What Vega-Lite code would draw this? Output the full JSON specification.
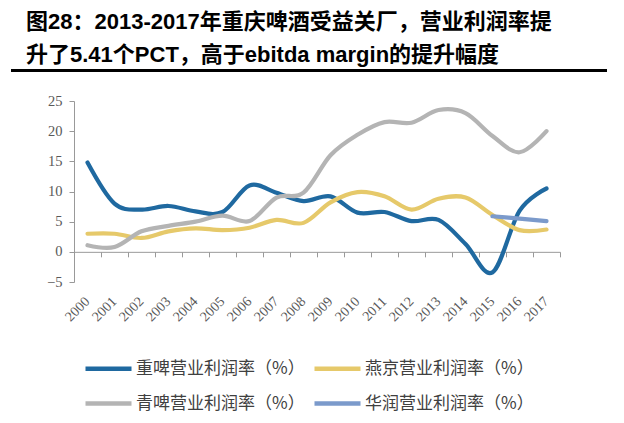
{
  "$schema": "https://vega.github.io/schema/vega-lite/v6.json",
  "width": 596,
  "height": 181,
  "autosize": "none",
  "padding": {"left": 11, "top": 101, "right": 17, "bottom": 141},
  "background": "white",
  "config": {"view": {"stroke": null}},
  "title": {
    "text": ["图28：2013-2017年重庆啤酒受益关厂，营业利润率提", "升了5.41个PCT，高于ebitda margin的提升幅度"],
    "anchor": "start",
    "frame": "group",
    "dx": 15,
    "offset": 3,
    "fontSize": 22,
    "lineHeight": 33,
    "font": "Liberation Sans, Noto Sans CJK SC",
    "fontWeight": "bold",
    "color": "#000000"
  },
  "data": {
    "values": [
      {"year": "2000", "series": "重啤营业利润率（%）", "value": 14.8},
      {"year": "2001", "series": "重啤营业利润率（%）", "value": 8.0},
      {"year": "2002", "series": "重啤营业利润率（%）", "value": 7.0},
      {"year": "2003", "series": "重啤营业利润率（%）", "value": 7.6},
      {"year": "2004", "series": "重啤营业利润率（%）", "value": 6.7},
      {"year": "2005", "series": "重啤营业利润率（%）", "value": 6.6},
      {"year": "2006", "series": "重啤营业利润率（%）", "value": 11.0},
      {"year": "2007", "series": "重啤营业利润率（%）", "value": 9.8},
      {"year": "2008", "series": "重啤营业利润率（%）", "value": 8.4},
      {"year": "2009", "series": "重啤营业利润率（%）", "value": 9.2},
      {"year": "2010", "series": "重啤营业利润率（%）", "value": 6.5},
      {"year": "2011", "series": "重啤营业利润率（%）", "value": 6.6},
      {"year": "2012", "series": "重啤营业利润率（%）", "value": 5.1},
      {"year": "2013", "series": "重啤营业利润率（%）", "value": 5.3},
      {"year": "2014", "series": "重啤营业利润率（%）", "value": 1.3},
      {"year": "2015", "series": "重啤营业利润率（%）", "value": -3.4},
      {"year": "2016", "series": "重啤营业利润率（%）", "value": 6.8},
      {"year": "2017", "series": "重啤营业利润率（%）", "value": 10.5},
      {"year": "2000", "series": "燕京营业利润率（%）", "value": 3.0},
      {"year": "2001", "series": "燕京营业利润率（%）", "value": 3.0},
      {"year": "2002", "series": "燕京营业利润率（%）", "value": 2.3},
      {"year": "2003", "series": "燕京营业利润率（%）", "value": 3.4},
      {"year": "2004", "series": "燕京营业利润率（%）", "value": 3.9},
      {"year": "2005", "series": "燕京营业利润率（%）", "value": 3.6},
      {"year": "2006", "series": "燕京营业利润率（%）", "value": 4.0},
      {"year": "2007", "series": "燕京营业利润率（%）", "value": 5.3},
      {"year": "2008", "series": "燕京营业利润率（%）", "value": 4.8},
      {"year": "2009", "series": "燕京营业利润率（%）", "value": 8.2},
      {"year": "2010", "series": "燕京营业利润率（%）", "value": 9.9},
      {"year": "2011", "series": "燕京营业利润率（%）", "value": 9.2},
      {"year": "2012", "series": "燕京营业利润率（%）", "value": 7.0},
      {"year": "2013", "series": "燕京营业利润率（%）", "value": 8.8},
      {"year": "2014", "series": "燕京营业利润率（%）", "value": 9.0},
      {"year": "2015", "series": "燕京营业利润率（%）", "value": 6.1},
      {"year": "2016", "series": "燕京营业利润率（%）", "value": 3.6},
      {"year": "2017", "series": "燕京营业利润率（%）", "value": 3.7},
      {"year": "2000", "series": "青啤营业利润率（%）", "value": 1.1},
      {"year": "2001", "series": "青啤营业利润率（%）", "value": 0.8},
      {"year": "2002", "series": "青啤营业利润率（%）", "value": 3.4},
      {"year": "2003", "series": "青啤营业利润率（%）", "value": 4.3},
      {"year": "2004", "series": "青啤营业利润率（%）", "value": 5.0},
      {"year": "2005", "series": "青啤营业利润率（%）", "value": 6.0},
      {"year": "2006", "series": "青啤营业利润率（%）", "value": 5.1},
      {"year": "2007", "series": "青啤营业利润率（%）", "value": 9.0},
      {"year": "2008", "series": "青啤营业利润率（%）", "value": 9.8},
      {"year": "2009", "series": "青啤营业利润率（%）", "value": 16.0},
      {"year": "2010", "series": "青啤营业利润率（%）", "value": 19.4},
      {"year": "2011", "series": "青啤营业利润率（%）", "value": 21.5},
      {"year": "2012", "series": "青啤营业利润率（%）", "value": 21.4},
      {"year": "2013", "series": "青啤营业利润率（%）", "value": 23.5},
      {"year": "2014", "series": "青啤营业利润率（%）", "value": 23.0},
      {"year": "2015", "series": "青啤营业利润率（%）", "value": 19.2},
      {"year": "2016", "series": "青啤营业利润率（%）", "value": 16.5},
      {"year": "2017", "series": "青啤营业利润率（%）", "value": 20.0},
      {"year": "2015", "series": "华润营业利润率（%）", "value": 5.9},
      {"year": "2016", "series": "华润营业利润率（%）", "value": 5.5},
      {"year": "2017", "series": "华润营业利润率（%）", "value": 5.1}
    ]
  },
  "layer": [
    {
      "mark": {"type": "rule", "color": "#000000", "strokeWidth": 2},
      "encoding": {
        "y": {"datum": 30, "type": "quantitative", "scale": {"domain": [-5, 25], "nice": false, "zero": false}, "axis": {"values": [-5, 0, 5, 10, 15, 20, 25], "orient": "left", "offset": -63, "grid": false, "title": null, "domainColor": "#999999", "tickColor": "#999999", "tickSize": 5, "labelPadding": 7, "labelFont": "Liberation Serif", "labelFontSize": 14.5, "labelColor": "#595959"}}
      }
    },
    {
      "mark": {"type": "tick", "opacity": 0},
      "encoding": {
        "x": {"field": "year", "type": "ordinal", "scale": {"type": "band", "range": [63, 549], "paddingInner": 0, "paddingOuter": 0},
          "axis": {"orient": "bottom", "offset": -30.17, "labels": false, "title": null, "domain": true, "domainColor": "#999999", "ticks": true, "tickColor": "#999999", "tickSize": 5, "tickBand": "extent", "grid": false}}
      }
    },
    {
      "mark": {"type": "line", "interpolate": "cardinal", "strokeWidth": 4.2, "strokeCap": "round"},
      "encoding": {
        "x": {"field": "year", "type": "ordinal", "bandPosition": 0.5, "scale": {"type": "band", "range": [63, 549], "paddingInner": 0, "paddingOuter": 0},
          "axis": {"orient": "bottom", "title": null, "domain": false, "ticks": false, "tickSize": 0, "labelAngle": -45, "labelAlign": "right", "labelBaseline": "middle", "labelPadding": 17, "labelFont": "Liberation Serif", "labelFontSize": 14, "labelColor": "#595959", "grid": false}},
        "y": {"field": "value", "type": "quantitative", "scale": {"domain": [-5, 25], "nice": false, "zero": false}, "axis": {"values": [-5, 0, 5, 10, 15, 20, 25], "orient": "left", "offset": -63, "grid": false, "title": null, "domainColor": "#999999", "tickColor": "#999999", "tickSize": 5, "labelPadding": 7, "labelFont": "Liberation Serif", "labelFontSize": 14.5, "labelColor": "#595959"}},
        "color": {"field": "series", "type": "nominal",
          "scale": {"domain": ["重啤营业利润率（%）", "燕京营业利润率（%）", "青啤营业利润率（%）", "华润营业利润率（%）"], "range": ["#1F69A0", "#E6C96A", "#B4B4B4", "#7B9ACB"]},
          "legend": {"title": null, "orient": "none", "legendX": 72, "legendY": 242, "columns": 2, "direction": "horizontal", "symbolType": "stroke", "symbolSize": 2116, "symbolStrokeWidth": 4.5, "labelFont": "Noto Sans CJK SC", "labelFontSize": 17, "labelLimit": 400, "labelColor": "#404040", "labelOffset": 2, "columnPadding": 0, "rowPadding": -12, "padding": 0}},
        "order": {"field": "series"}
      }
    }
  ],
  "resolve": {"axis": {"x": "independent"}}
}
